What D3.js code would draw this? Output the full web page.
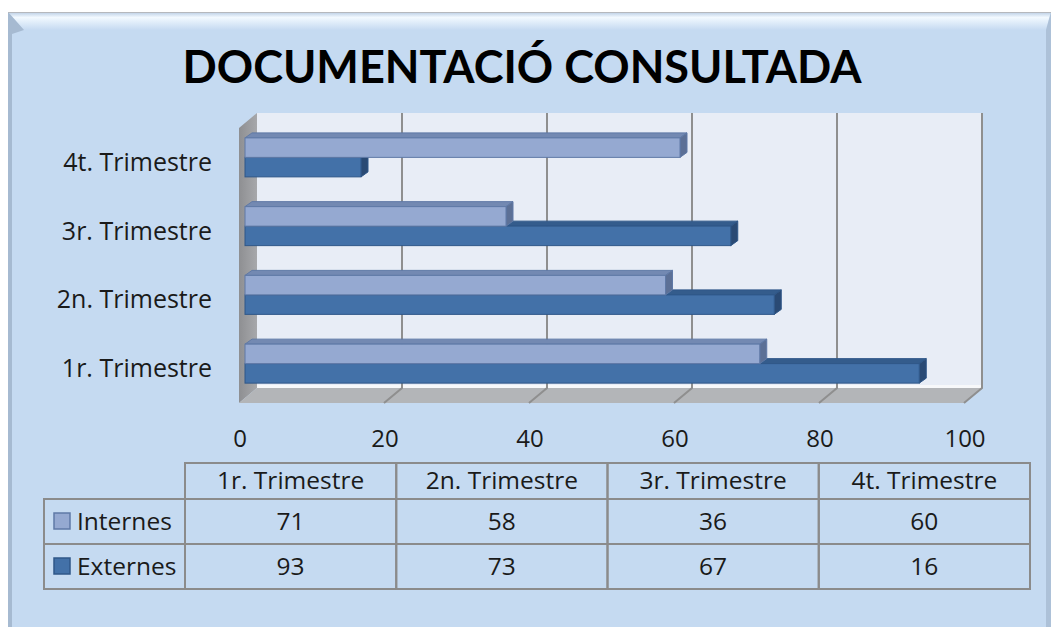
<!DOCTYPE html>
<html>
<head>
<meta charset="utf-8">
<script src="https://cdn.jsdelivr.net/npm/d3@7"></script>
<style>
  body { margin: 0; background: #ffffff; }
  svg { display: block; }
  text { font-family: "Open Sans", "Noto Sans", sans-serif; fill: #1a1a1a; }
</style>
</head>
<body>
<svg id="chart" width="1051" height="627"></svg>
<script>
// chart data
const categories = ['1r. Trimestre', '2n. Trimestre', '3r. Trimestre', '4t. Trimestre'];
const seriesNames = ['Internes', 'Externes'];
const internes = [71, 58, 36, 60];
const externes = [93, 73, 67, 16];
const xTicks = [0, 20, 40, 60, 80, 100];

const colors = {
    Internes: { front: '#95a9d1', top: '#7389b2', side: '#5c7096', stroke: '#5f79a6' },
    Externes: { front: '#4371a8', top: '#345c8c', side: '#2a4a74', stroke: '#2f5788' }
};

const svg = d3.select('#chart');
const W = 1051, H = 627;

// background frame with bevel
const defs = svg.append('defs');
const topGrad = defs.append('linearGradient').attr('id', 'topBevel')
    .attr('x1', 0).attr('y1', 0).attr('x2', 0).attr('y2', 1);
topGrad.append('stop').attr('offset', '0%').attr('stop-color', '#b9cde4');
topGrad.append('stop').attr('offset', '30%').attr('stop-color', '#f2f9ff');
topGrad.append('stop').attr('offset', '100%').attr('stop-color', '#c5daf1');

const wallGrad = defs.append('linearGradient').attr('id', 'leftWall')
    .attr('x1', 0).attr('y1', 0).attr('x2', 1).attr('y2', 0);
wallGrad.append('stop').attr('offset', '0%').attr('stop-color', '#8e8f92');
wallGrad.append('stop').attr('offset', '100%').attr('stop-color', '#a7a8ab');

svg.append('rect').attr('x', 8).attr('y', 12).attr('width', W - 8).attr('height', H - 12)
    .attr('fill', '#c5daf1');
svg.append('path')
    .attr('d', `M8,12 L${W},12 L${W - 5},30 L24,30 Z`)
    .attr('fill', 'url(#topBevel)');
svg.append('path')
    .attr('d', `M8,12 L24,30 L12,34 L12,${H} L8,${H} Z`)
    .attr('fill', '#a6bad1');
svg.append('path')
    .attr('d', `M${W},12 L${W - 5},30 L${W - 5},${H} L${W},${H} Z`)
    .attr('fill', '#adc1d8');
svg.append('line').attr('x1', 8).attr('x2', W).attr('y1', 12.5).attr('y2', 12.5)
    .attr('stroke', '#b5b8bd').attr('stroke-width', 1);

// title
svg.append('text')
    .attr('x', 522).attr('y', 83)
    .attr('text-anchor', 'middle')
    .attr('textLength', 679)
    .attr('lengthAdjust', 'spacingAndGlyphs')
    .style('font-family', 'Lato, "Open Sans", sans-serif')
    .style('font-size', '45px')
    .style('font-weight', 'bold')
    .style('fill', '#000')
    .text('DOCUMENTACIÓ CONSULTADA');

// 3d plot geometry
const depthX = 18, depthY = 15;
const wallTop = 113, wallBottom = 388;
const xBack = d3.scaleLinear().domain([0, 100]).range([257, 982]);
const xFront = d3.scaleLinear().domain([0, 100]).range([257 - depthX, 982 - depthX]);
const xBar = d3.scaleLinear().domain([0, 100]).range([245, 970]);

const y = d3.scaleBand().domain(categories).range([398, 123]);
const yInner = d3.scaleBand().domain(seriesNames).range([-19.5, 19.5]);

const plot = svg.append('g').attr('class', 'plot');

// back wall
plot.append('rect')
    .attr('x', xBack(0)).attr('y', wallTop)
    .attr('width', xBack(100) - xBack(0)).attr('height', wallBottom - wallTop)
    .attr('fill', '#e8edf6');
// left wall
plot.append('path')
    .attr('d', `M${xFront(0)},${wallTop + depthY} L${xBack(0)},${wallTop} L${xBack(0)},${wallBottom} L${xFront(0)},${wallBottom + depthY} Z`)
    .attr('fill', 'url(#leftWall)');
// floor
plot.append('path')
    .attr('d', `M${xFront(0)},${wallBottom + depthY} L${xBack(0)},${wallBottom} L${xBack(100)},${wallBottom} L${xFront(100)},${wallBottom + depthY} Z`)
    .attr('fill', '#b3b5b8');
plot.append('line')
    .attr('x1', xBack(0)).attr('x2', xBack(100))
    .attr('y1', wallBottom - 1.5).attr('y2', wallBottom - 1.5)
    .attr('stroke', '#f7f8fa').attr('stroke-width', 3);

// gridlines on back wall and floor
plot.selectAll('.grid')
    .data(xTicks.filter(d => d > 0))
    .enter().append('path')
    .attr('class', 'grid')
    .attr('d', d => `M${xBack(d)},${wallTop} L${xBack(d)},${wallBottom} L${xFront(d)},${wallBottom + depthY}`)
    .attr('fill', 'none')
    .attr('stroke', '#8f8f8f')
    .attr('stroke-width', 2);

// bars, Externes first so Internes sits on top
const bd = { x: 7, y: 5 };
const barData = [];
seriesNames.slice().reverse().forEach(s => {
    const vals = s === 'Internes' ? internes : externes;
    categories.slice().reverse().forEach(c => {
        barData.push({ series: s, cat: c, value: vals[categories.indexOf(c)] });
    });
});

const bars = plot.selectAll('.bar')
    .data(barData)
    .enter().append('g')
    .attr('class', 'bar');

bars.each(function (d) {
    const g = d3.select(this);
    const c = colors[d.series];
    const x0 = xBar(0), x1 = xBar(d.value);
    const top = y(d.cat) + y.bandwidth() / 2 + yInner(d.series);
    const bot = top + yInner.bandwidth();
    g.append('path')
        .attr('d', `M${x0},${top} L${x0 + bd.x},${top - bd.y} L${x1 + bd.x},${top - bd.y} L${x1},${top} Z`)
        .attr('fill', c.top).attr('stroke', c.stroke).attr('stroke-width', 1);
    g.append('path')
        .attr('d', `M${x1},${top} L${x1 + bd.x},${top - bd.y} L${x1 + bd.x},${bot - bd.y} L${x1},${bot} Z`)
        .attr('fill', c.side).attr('stroke', c.stroke).attr('stroke-width', 1);
    g.append('rect')
        .attr('x', x0).attr('y', top)
        .attr('width', x1 - x0).attr('height', bot - top)
        .attr('fill', c.front).attr('stroke', c.stroke).attr('stroke-width', 1);
});

// category labels
svg.selectAll('.cat-label')
    .data(categories)
    .enter().append('text')
    .attr('class', 'cat-label')
    .attr('x', 212)
    .attr('y', d => y(d) + y.bandwidth() / 2 + 13.5)
    .attr('text-anchor', 'end')
    .style('font-size', '25px')
    .text(d => d);

// x tick labels
svg.selectAll('.x-tick')
    .data(xTicks)
    .enter().append('text')
    .attr('class', 'x-tick')
    .attr('x', d => xFront(d) + 1)
    .attr('y', 447)
    .attr('text-anchor', 'middle')
    .style('font-size', '24px')
    .text(d => d);

// data table
const tCol = d3.scaleBand().domain(categories).range([185, 1030]);
const headTop = 463, headBottom = 499;
const tRow = d3.scaleBand().domain(seriesNames).range([headBottom, 589]);
const legendLeft = 44;
const gridColor = '#8b8b8b';

const table = svg.append('g').attr('class', 'data-table');
const values = { Internes: internes, Externes: externes };

// header cells
table.selectAll('.head-cell')
    .data(categories)
    .enter().append('rect')
    .attr('x', d => tCol(d)).attr('y', headTop)
    .attr('width', tCol.bandwidth()).attr('height', headBottom - headTop)
    .attr('fill', 'none').attr('stroke', gridColor).attr('stroke-width', 2);
table.selectAll('.head-text')
    .data(categories)
    .enter().append('text')
    .attr('x', d => tCol(d) + tCol.bandwidth() / 2)
    .attr('y', 489)
    .attr('text-anchor', 'middle')
    .style('font-size', '24.5px')
    .text(d => d);

seriesNames.forEach((s, si) => {
    const ry = tRow(s);
    table.append('rect')
        .attr('x', legendLeft).attr('y', ry)
        .attr('width', tCol.range()[0] - legendLeft).attr('height', tRow.bandwidth())
        .attr('fill', 'none').attr('stroke', gridColor).attr('stroke-width', 2);
    table.append('rect')
        .attr('x', 54).attr('y', ry + 14)
        .attr('width', 16).attr('height', 16)
        .attr('fill', colors[s].front).attr('stroke', colors[s].stroke).attr('stroke-width', 1.5);
    table.append('text')
        .attr('x', 77).attr('y', ry + 31)
        .style('font-size', '24.5px')
        .text(s);
    categories.forEach((c, ci) => {
        table.append('rect')
            .attr('x', tCol(c)).attr('y', ry)
            .attr('width', tCol.bandwidth()).attr('height', tRow.bandwidth())
            .attr('fill', 'none').attr('stroke', gridColor).attr('stroke-width', 2);
        table.append('text')
            .attr('x', tCol(c) + tCol.bandwidth() / 2)
            .attr('y', ry + 31)
            .attr('text-anchor', 'middle')
            .style('font-size', '24.5px')
            .text(values[s][ci]);
    });
});
</script>
</body>
</html>
